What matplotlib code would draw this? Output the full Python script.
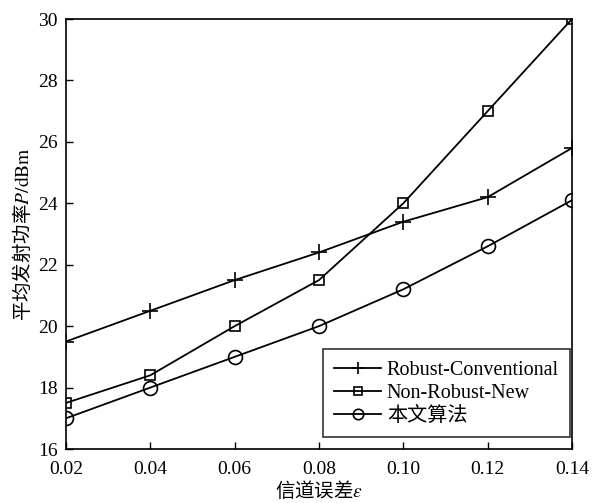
import matplotlib
matplotlib.use('Agg')
import matplotlib.pyplot as plt

plt.rcParams['font.family'] = ['Liberation Serif', 'Noto Sans CJK SC']
plt.rcParams['mathtext.fontset'] = 'stix'

eps = [0.02, 0.04, 0.06, 0.08, 0.10, 0.12, 0.14]
robust_conv = [19.5, 20.5, 21.5, 22.4, 23.4, 24.2, 25.8]
nonrobust_new = [17.5, 18.4, 20.0, 21.5, 24.0, 27.0, 30.0]
proposed = [17.0, 18.0, 19.0, 20.0, 21.2, 22.6, 24.1]

xticks = [0.02, 0.04, 0.06, 0.08, 0.10, 0.12, 0.14]
yticks = [16, 18, 20, 22, 24, 26, 28, 30]

fig = plt.figure(figsize=(5.98, 5.03), dpi=100)
ax = fig.add_axes([66/598, 1 - 449/503, (572-66)/598, (449-19)/503])

ax.plot(eps, robust_conv, color='black', lw=1.3, marker='+', ms=11, mew=1.2,
        label='Robust-Conventional')
ax.plot(eps, nonrobust_new, color='black', lw=1.3, marker='s', ms=7, mew=1.2,
        mfc='none', label='Non-Robust-New')
ax.plot(eps, proposed, color='black', lw=1.3, marker='o', ms=10, mew=1.2,
        mfc='none', label='本文算法')

ax.set_xlim(0.02, 0.14)
ax.set_ylim(16, 30)
ax.set_xticks(xticks)
ax.set_xticklabels([f'{v:.2f}' for v in xticks])
ax.set_yticks(yticks)
ax.tick_params(direction='in', labelsize=14, length=5, width=1, top=False, right=False)
ax.tick_params(axis='x', pad=9)
ax.tick_params(axis='y', pad=6)
for s in ax.spines.values():
    s.set_linewidth(1.2)

# Chinese text with an italic symbol: non-math part in the CJK font
ax.set_xlabel('信道误差$\\varepsilon$', fontsize=14, family='Noto Sans CJK SC', labelpad=1)
ax.set_ylabel('平均发射功率$P\\mathrm{/dBm}$', fontsize=14, family='Noto Sans CJK SC', labelpad=3)

leg = ax.legend(loc='lower right', bbox_to_anchor=((570-66)/506, 12/430),
                fontsize=14.5, frameon=True, fancybox=False,
                edgecolor='black', handlelength=2.3, handletextpad=0.3,
                borderaxespad=0, labelspacing=0.2, borderpad=0.55, markerscale=0.75)
leg.get_frame().set_linewidth(1.2)

fig.savefig('out.png', dpi=100)
